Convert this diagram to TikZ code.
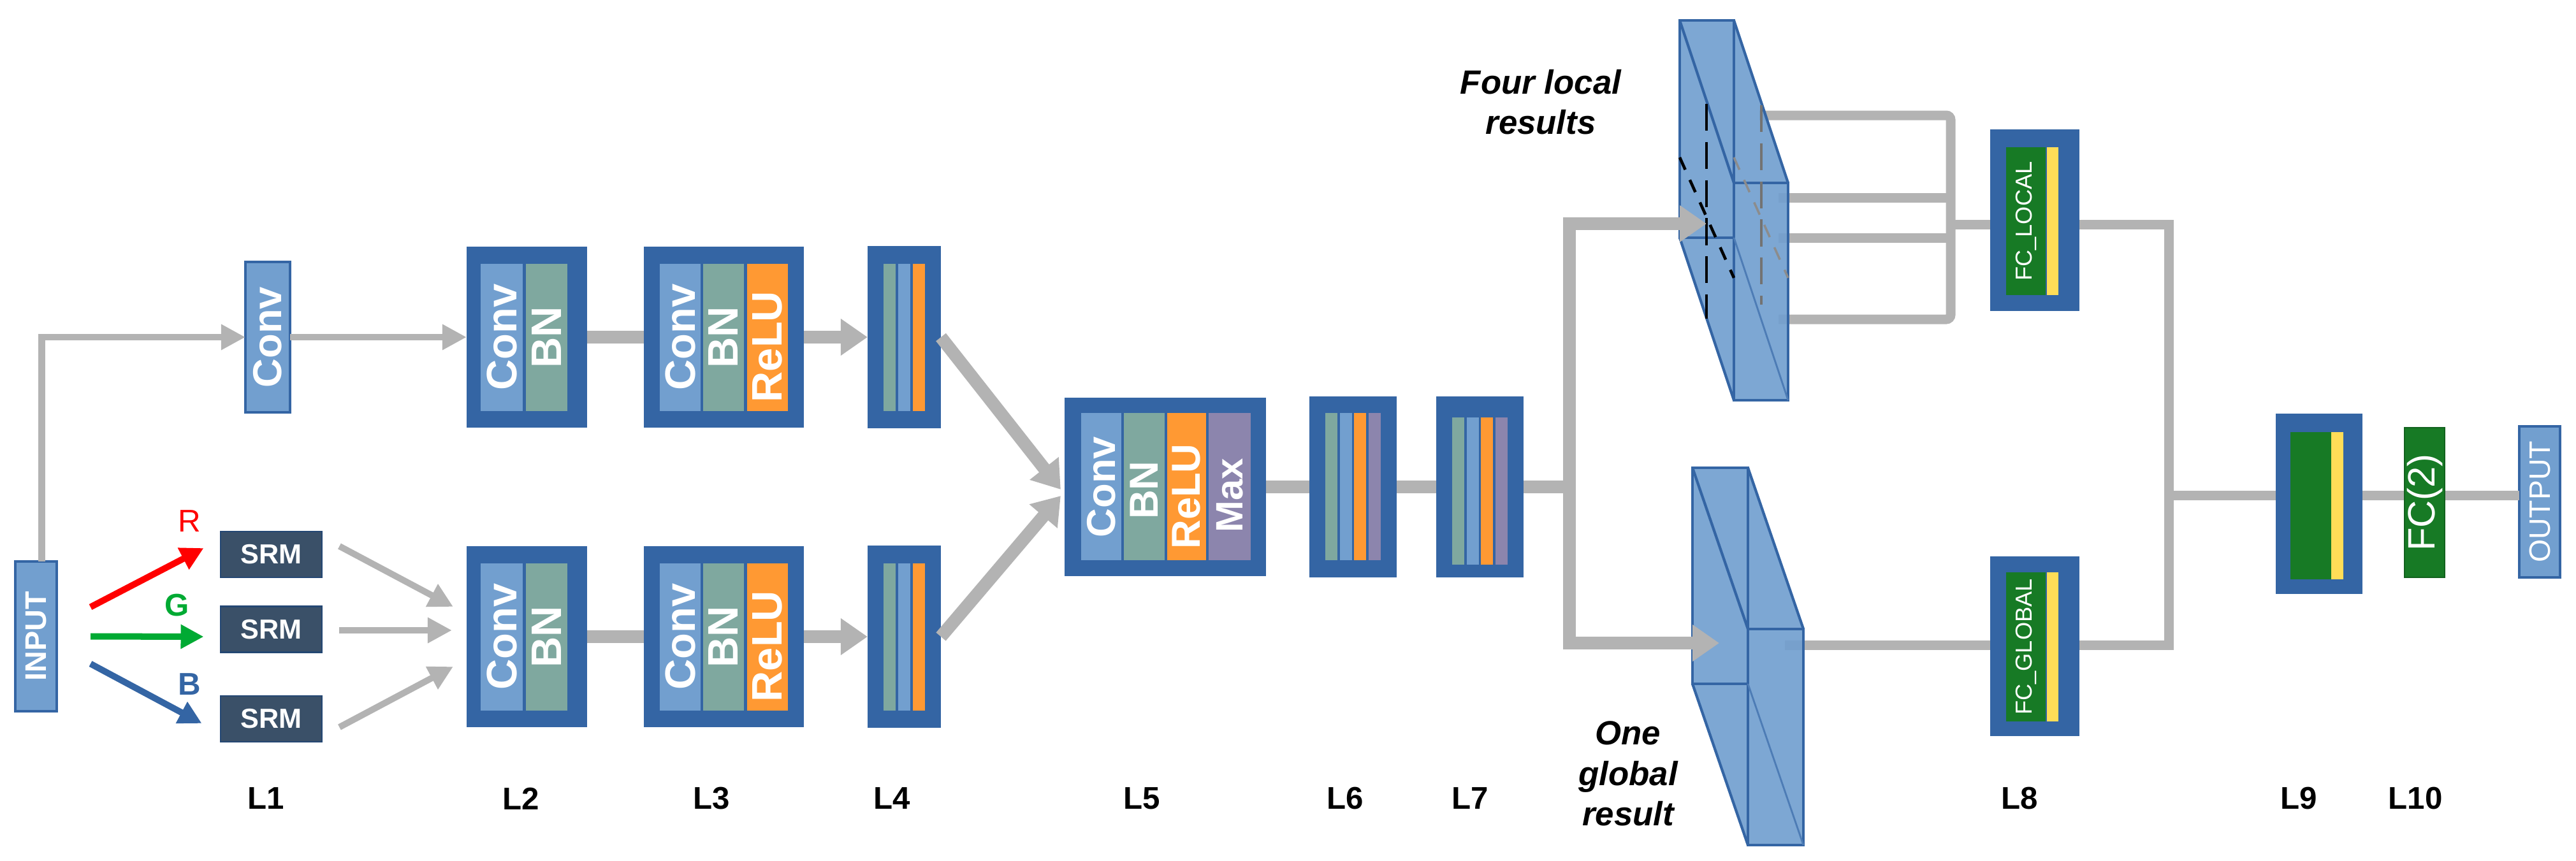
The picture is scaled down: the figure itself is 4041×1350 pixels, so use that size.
\documentclass[tikz,border=0pt]{standalone}
\usepackage{fontspec}
\setmainfont{Liberation Sans}
\usetikzlibrary{arrows.meta,calc}
\definecolor{dkb}{HTML}{3465A4}
\definecolor{ltb}{HTML}{729FCF}
\definecolor{tealc}{HTML}{7FA89F}
\definecolor{org}{HTML}{FF9933}
\definecolor{pur}{HTML}{8C85AD}
\definecolor{grn}{HTML}{177A25}
\definecolor{yel}{HTML}{FFDD57}
\definecolor{gry}{HTML}{B3B3B3}
\definecolor{srm}{HTML}{3A5068}
\definecolor{rr}{HTML}{FF0000}
\definecolor{gg}{HTML}{00AA33}
\definecolor{bb}{HTML}{3465A4}
\newcommand\Strip[4]{\fill[#1] ({#2-#4/2},{#3-115.5}) rectangle ({#2+#4/2},{#3+115.5});}
\begin{document}
\begin{tikzpicture}[x=0.01cm,y=-0.01cm,
  outer/.style={fill=dkb,inner sep=0,outer sep=0},
  lb/.style={fill=ltb,draw=dkb,line width=1.2pt,inner sep=0,outer sep=0},
  vt/.style={rotate=90,text=white,inner sep=0},
  big/.style={font=\fontsize{19}{19}\selectfont\bfseries},
  lay/.style={font=\fontsize{14}{14}\selectfont\bfseries},
  gthick/.style={draw=gry,line width=0.2cm},
  gmid/.style={draw=gry,line width=0.15cm},
  gthin/.style={draw=gry,line width=0.1cm},
  bh/.style={-{Triangle[length=0.42cm,width=0.55cm]}},
  sh/.style={-{Triangle[length=0.38cm,width=0.38cm]}},
  ch/.style={line width=0.1cm,-{Triangle[length=0.36cm,width=0.36cm]}},
  capt/.style={font=\fontsize{15}{18}\selectfont\bfseries\itshape,align=center}]
\useasboundingbox (0,0) rectangle (4041,1350);

% ---------- L1
\node[lb,minimum width=0.65cm,minimum height=2.35cm] (in) at (56.5,998.5) {};
\node[vt,font=\fontsize{13.3}{13}\selectfont\bfseries] at (in) {INPUT};
\node[lb,minimum width=0.70cm,minimum height=2.36cm] (c1) at (420,529) {};
\node[vt,font=\fontsize{18}{18}\selectfont\bfseries] at (c1) {Conv};
\foreach \n/\y in {s1/870,s2/987.5,s3/1128}
  \node[fill=srm,draw=dkb!70!black,line width=0.8pt,minimum width=1.59cm,minimum height=0.72cm,inner sep=0,text=white,font=\fontsize{12.3}{12}\selectfont\bfseries] (\n) at (425.5,\y) {SRM};

% ---------- L2/L3/L4 rows
\foreach \r/\y in {t/529,b/999}{
  \node[outer,minimum width=1.89cm,minimum height=2.84cm] (L2\r) at (826.5,\y) {};
  \Strip{ltb}{787}{\y}{66}\Strip{tealc}{857.5}{\y}{65}
  \node[vt,big] at (787,\y) {Conv};
  \node[vt,big] at (857.5,\y) {BN};
  \node[outer,minimum width=2.51cm,minimum height=2.84cm] (L3\r) at (1135.5,\y) {};
  \Strip{ltb}{1067}{\y}{64}\Strip{tealc}{1135}{\y}{64}\Strip{org}{1204}{\y}{64}
  \node[vt,big] at (1067,\y) {Conv};
  \node[vt,big] at (1135,\y) {BN};
  \node[vt,big] at (1204,\y+15) {ReLU};
  \node[outer,minimum width=1.15cm,minimum height=2.86cm] (L4\r) at (1418.5,\y) {};
  \Strip{tealc}{1395.5}{\y}{19}\Strip{ltb}{1418.5}{\y}{19}\Strip{org}{1441.5}{\y}{19}
}

% ---------- L5 L6 L7
\node[outer,minimum width=3.16cm,minimum height=2.80cm] (L5) at (1828,764) {};
\Strip{ltb}{1727.5}{763.5}{63}\Strip{tealc}{1795}{763.5}{64}\Strip{org}{1861.5}{763.5}{61}\Strip{pur}{1929}{763.5}{66}
\node[vt,font=\fontsize{18}{18}\selectfont\bfseries] at (1727.5,764) {Conv};
\node[vt,font=\fontsize{18}{18}\selectfont\bfseries] at (1795,769) {BN};
\node[vt,font=\fontsize{18}{18}\selectfont\bfseries] at (1861.5,779) {ReLU};
\node[vt,font=\fontsize{17}{17}\selectfont\bfseries] at (1929,777) {Max};
\node[outer,minimum width=1.37cm,minimum height=2.84cm] (L6) at (2122.5,764) {};
\Strip{tealc}{2088.5}{763.5}{19}\Strip{ltb}{2111.5}{763.5}{19}\Strip{org}{2133.5}{763.5}{19}\Strip{pur}{2156.5}{763.5}{19}
\node[outer,minimum width=1.37cm,minimum height=2.84cm] (L7) at (2321.5,764) {};
\Strip{tealc}{2287.5}{770}{19}\Strip{ltb}{2310.5}{770}{19}\Strip{org}{2332.5}{770}{19}\Strip{pur}{2355.5}{770}{19}

% ---------- L8 L9 L10 output
\node[outer,minimum width=1.40cm,minimum height=2.85cm] (fcl) at (3192,345.5) {};
\fill[grn] (3147,231) rectangle (3209,463); \fill[yel] (3211,231) rectangle (3229,463);
\node[vt,font=\fontsize{10.3}{10}\selectfont] at (3178,347) {FC\_LOCAL};
\node[outer,minimum width=1.40cm,minimum height=2.82cm] (fcg) at (3192,1014) {};
\fill[grn] (3147,898) rectangle (3209,1132); \fill[yel] (3211,898) rectangle (3229,1132);
\node[vt,font=\fontsize{10.3}{10}\selectfont] at (3178,1015) {FC\_GLOBAL};
\node[outer,minimum width=1.36cm,minimum height=2.83cm] (L9) at (3638,790.5) {};
\fill[grn] (3593,678) rectangle (3657,909); \fill[yel] (3657,678) rectangle (3676,909);
\node[fill=grn,draw=grn!80!black,line width=0.8pt,minimum width=0.63cm,minimum height=2.35cm,inner sep=0] (fc2) at (3803.5,788.5) {};
\node[vt,font=\fontsize{17}{17}\selectfont] at (fc2) {FC(2)};
\node[lb,minimum width=0.64cm,minimum height=2.37cm] (out) at (3984,787.5) {};
\node[vt,font=\fontsize{13.2}{13}\selectfont] at (out) {OUTPUT};

% ---------- connectors left part
\draw[gthin,sh] ($(in.north)+(9,0)$) |- (c1.west);
\draw[gthin,sh] (c1.east) -- (L2t.west);
\draw[gthick] (L2t.east) -- (L3t.west);
\draw[gthick,bh] (L3t.east) -- (L4t.west);
\draw[gthick] (L2b.east) -- (L3b.west);
\draw[gthick,bh] (L3b.east) -- (L4b.west);
\draw[rr,ch] ($(in.east)+(53,-46)$) -- ($(s1.west)+(-25,-10)$);
\draw[gg,ch] ($(in.east)+(53,0)$) -- ($(s2.west)+(-25,11.5)$);
\draw[bb,ch] ($(in.east)+(53,43)$) -- ($(s3.west)+(-28,7)$);
\node[text=rr,font=\fontsize{14}{14}\selectfont] at (297,818) {R};
\node[text=gg,font=\fontsize{14}{14}\selectfont\bfseries] at (278,950) {G};
\node[text=bb,font=\fontsize{14}{14}\selectfont\bfseries] at (297,1074) {B};
\draw[gthin,sh] ($(s1.east)+(26,-13)$) -- ($(L2b.west)+(-21,-47)$);
\draw[gthin,sh] ($(s2.east)+(26,1.5)$) -- ($(L2b.west)+(-23,-10)$);
\draw[gthin,sh] ($(s3.east)+(26,13)$) -- ($(L2b.west)+(-21,47)$);
\draw[gthick,bh] (L4t.east) -- ($(L5.west)+(-6,4)$);
\draw[gthick,bh] (L4b.east) -- ($(L5.west)+(-6,14)$);
\draw[gthick] (L5.east) -- (L6.west);
\draw[gthick] (L6.east) -- (L7.west);

% ---------- branch
\coordinate (br) at (2462,764);
\coordinate (lin) at (2677,351);
\coordinate (gin) at (2697,1009);
\draw[gthick] (L7.east) -- (br);
\coordinate (bar) at (3060,352);
\draw[gmid,rounded corners=2pt] (2760,181) -| (3060,501) -- (2790,501);
\draw[gmid] (2790,310) -- (3060,310);
\draw[gmid] (2790,373) -- (3060,373);
\draw[gmid] (bar) -- (bar -| fcl.west);
\draw[gmid] (2800,1012) -- (2800,1012 -| fcg.west);

% ---------- slabs
\foreach \x/\y/\w/\h/\dx/\dy in {2635/32/85/341/85/255, 2655/734/87/339/87/253}{
  \fill[ltb,fill opacity=0.92] (\x,\y) -- ++(\w,0) -- ++(\dx,\dy) -- ++(0,\h) -- ++(-\w,0) -- ++(-\dx,-\dy) -- cycle;
  \draw[dkb,line width=1.2pt] (\x,\y) rectangle ++(\w,\h);
  \draw[dkb,line width=1.2pt] (\x+\dx,\y+\dy) rectangle ++(\w,\h);
  \draw[dkb,line width=1.2pt] (\x,\y) -- ++(\dx,\dy) (\x+\w,\y) -- ++(\dx,\dy)
     (\x,\y+\h) -- ++(\dx,\dy);
  \draw[dkb!60!ltb,line width=0.8pt] (\x+\w,\y+\h) -- ++(\dx,\dy);
}
\draw[black,line width=1.3pt,dash pattern=on 12pt off 5pt] (2677,163) -- (2677,500);
\draw[black,line width=1.3pt,dash pattern=on 6pt off 5pt] (2635,247) -- (2720,436);
\draw[black!55,line width=1pt,dash pattern=on 12pt off 5pt] (2763,165) -- (2763,478);
\draw[black!45,line width=1pt,dash pattern=on 6pt off 5pt] (2720,247) -- (2805,436);
\draw[gthick,bh] (br) |- (lin);
\draw[gthick,bh] (br) |- (gin);

% ---------- right merge
\coordinate (m) at (3402,777);
\draw[gmid] (bar -| fcl.east) -| (m);
\draw[gmid] (2800,1012 -| fcg.east) -| (m);
\draw[gmid] (m) -- (m -| L9.west);
\draw[gmid] (m -| L9.east) -- (m -| fc2.west);
\draw[gmid] (m -| fc2.east) -- (m -| out.west);

% ---------- captions
\node[capt] at (2417,160) {Four local\\results};
\node[capt] at (2554,1214) {One\\global\\result};
\foreach \t/\x in {L1/417,L2/817,L3/1116,L4/1399,L5/1791,L6/2110,L7/2306,L8/3168,L9/3606,L10/3789}
  \node[lay] at (\x,1253) {\t};
\end{tikzpicture}
\end{document}
